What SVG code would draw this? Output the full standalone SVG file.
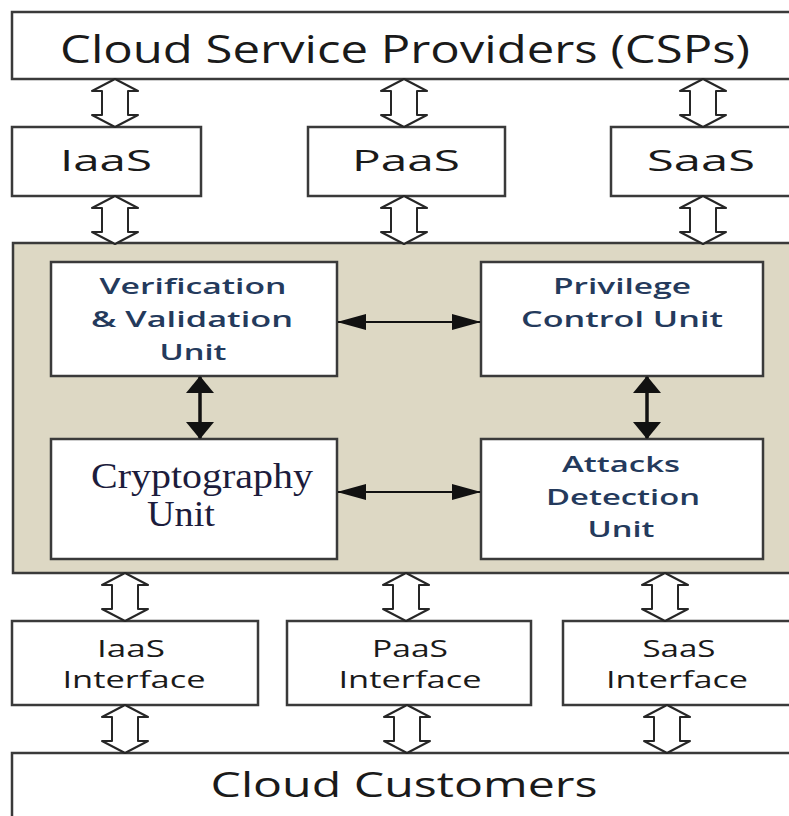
<svg xmlns="http://www.w3.org/2000/svg" xmlns:xlink="http://www.w3.org/1999/xlink" width="789" height="816" viewBox="0 0 789 816">
  <style>
    .box { fill: #ffffff; stroke: #3a3a3a; stroke-width: 2.5; }
    .panel { fill: #ddd8c4; stroke: #3a3a3a; stroke-width: 2.5; }
    .lbl { font-family: "Open Sans", "Liberation Sans", sans-serif; fill: #1a1a1a; text-anchor: middle; }
    .unit { font-family: "Open Sans", "Liberation Sans", sans-serif; font-weight: 600; font-size: 21px; fill: #243a5c; text-anchor: middle; }
    .serif { font-family: "Liberation Serif", "Times New Roman", serif; font-size: 36px; fill: #1c1c3c; }
    .hollow { fill: #ffffff; stroke: #262626; stroke-width: 2; stroke-linejoin: round; }
    .thin { stroke: #111; stroke-width: 2; fill: none; }
    .thick { stroke: #111; stroke-width: 3.5; fill: none; }
  </style>
  <defs>
    <!-- open double-headed block arrow, 48 units tall, centred on x=0 -->
    <path id="dbl" class="hollow" d="M0,0 L23,12 L13,12 L13,36 L23,36 L0,48 L-23,36 L-13,36 L-13,12 L-23,12 Z"/>
    <marker id="headH" markerUnits="userSpaceOnUse" markerWidth="29" markerHeight="16" refX="28" refY="8" orient="auto-start-reverse">
      <path d="M0,0 L29,8 L0,16 Z" fill="#111"/>
    </marker>
    <marker id="headV" markerUnits="userSpaceOnUse" markerWidth="17" markerHeight="28" refX="16" refY="14" orient="auto-start-reverse">
      <path d="M0,0 L17,14 L0,28 Z" fill="#111"/>
    </marker>
  </defs>

  <rect width="789" height="816" fill="#ffffff"/>

  <!-- top tier -->
  <g id="csp">
    <rect class="box" x="12" y="12" width="790" height="67"/>
    <text class="lbl" x="405" y="63" font-size="38" textLength="690" lengthAdjust="spacingAndGlyphs">Cloud Service Providers (CSPs)</text>
  </g>
  <g id="iaas">
    <rect class="box" x="12" y="127" width="189" height="69"/>
    <text class="lbl" x="106" y="171" font-size="30" textLength="92" lengthAdjust="spacingAndGlyphs">IaaS</text>
  </g>
  <g id="paas">
    <rect class="box" x="308" y="127" width="197" height="69"/>
    <text class="lbl" x="406" y="171" font-size="30" textLength="108" lengthAdjust="spacingAndGlyphs">PaaS</text>
  </g>
  <g id="saas">
    <rect class="box" x="611" y="127" width="185" height="69"/>
    <text class="lbl" x="701" y="171" font-size="30" textLength="108" lengthAdjust="spacingAndGlyphs">SaaS</text>
  </g>

  <!-- security middleware panel -->
  <g id="middleware">
    <rect class="panel" x="13" y="243" width="790" height="330"/>
  </g>
  <g id="verification">
    <rect class="box" x="51" y="262" width="286" height="114"/>
    <text class="unit" x="193" y="294" textLength="187" lengthAdjust="spacingAndGlyphs">Verification</text>
    <text class="unit" x="192" y="327" textLength="202" lengthAdjust="spacingAndGlyphs">&amp; Validation</text>
    <text class="unit" x="193" y="360" textLength="67" lengthAdjust="spacingAndGlyphs">Unit</text>
  </g>
  <g id="privilege">
    <rect class="box" x="481" y="262" width="282" height="114"/>
    <text class="unit" x="622" y="294" textLength="138" lengthAdjust="spacingAndGlyphs">Privilege</text>
    <text class="unit" x="622" y="327" textLength="202" lengthAdjust="spacingAndGlyphs">Control Unit</text>
  </g>
  <g id="cryptography">
    <rect class="box" x="51" y="439" width="286" height="120"/>
    <text class="serif" x="91" y="488" textLength="222" lengthAdjust="spacingAndGlyphs">Cryptography</text>
    <text class="serif" x="147" y="526" textLength="68" lengthAdjust="spacingAndGlyphs">Unit</text>
  </g>
  <g id="attacks">
    <rect class="box" x="481" y="439" width="282" height="120"/>
    <text class="unit" x="621" y="472" textLength="118" lengthAdjust="spacingAndGlyphs">Attacks</text>
    <text class="unit" x="623" y="505" textLength="154" lengthAdjust="spacingAndGlyphs">Detection</text>
    <text class="unit" x="621" y="537" textLength="67" lengthAdjust="spacingAndGlyphs">Unit</text>
  </g>

  <!-- interface tier -->
  <g id="iaas-interface">
    <rect class="box" x="12" y="621" width="246" height="84"/>
    <text class="lbl" x="131" y="657" font-size="23" textLength="68" lengthAdjust="spacingAndGlyphs">IaaS</text>
    <text class="lbl" x="134" y="688" font-size="23" textLength="143" lengthAdjust="spacingAndGlyphs">Interface</text>
  </g>
  <g id="paas-interface">
    <rect class="box" x="287" y="621" width="244" height="84"/>
    <text class="lbl" x="410" y="657" font-size="23" textLength="76" lengthAdjust="spacingAndGlyphs">PaaS</text>
    <text class="lbl" x="410" y="688" font-size="23" textLength="143" lengthAdjust="spacingAndGlyphs">Interface</text>
  </g>
  <g id="saas-interface">
    <rect class="box" x="563" y="621" width="230" height="84"/>
    <text class="lbl" x="679" y="657" font-size="23" textLength="73" lengthAdjust="spacingAndGlyphs">SaaS</text>
    <text class="lbl" x="677" y="688" font-size="23" textLength="142" lengthAdjust="spacingAndGlyphs">Interface</text>
  </g>

  <!-- bottom tier -->
  <g id="customers">
    <rect class="box" x="12" y="753" width="786" height="80"/>
    <text class="lbl" x="404" y="797" font-size="34" textLength="387" lengthAdjust="spacingAndGlyphs">Cloud Customers</text>
  </g>

  <g id="connectors">
    <!-- providers <-> service models -->
    <use xlink:href="#dbl" href="#dbl" transform="translate(115,79)"/>
    <use xlink:href="#dbl" href="#dbl" transform="translate(404,79)"/>
    <use xlink:href="#dbl" href="#dbl" transform="translate(703,79)"/>
    <!-- service models <-> middleware -->
    <use xlink:href="#dbl" href="#dbl" transform="translate(115,196)"/>
    <use xlink:href="#dbl" href="#dbl" transform="translate(404,196)"/>
    <use xlink:href="#dbl" href="#dbl" transform="translate(703,196)"/>
    <!-- middleware <-> interfaces -->
    <use xlink:href="#dbl" href="#dbl" transform="translate(125,573)"/>
    <use xlink:href="#dbl" href="#dbl" transform="translate(406,573)"/>
    <use xlink:href="#dbl" href="#dbl" transform="translate(665,573)"/>
    <!-- interfaces <-> customers -->
    <use xlink:href="#dbl" href="#dbl" transform="translate(125,705)"/>
    <use xlink:href="#dbl" href="#dbl" transform="translate(407,705)"/>
    <use xlink:href="#dbl" href="#dbl" transform="translate(667,705)"/>

    <!-- links between units -->
    <line class="thin" x1="338" y1="322" x2="480" y2="322" marker-start="url(#headH)" marker-end="url(#headH)"/>
    <line class="thin" x1="338" y1="492" x2="480" y2="492" marker-start="url(#headH)" marker-end="url(#headH)"/>
    <line class="thick" x1="200" y1="377" x2="200" y2="438" marker-start="url(#headV)" marker-end="url(#headV)"/>
    <line class="thick" x1="647" y1="377" x2="647" y2="438" marker-start="url(#headV)" marker-end="url(#headV)"/>
  </g>
</svg>
